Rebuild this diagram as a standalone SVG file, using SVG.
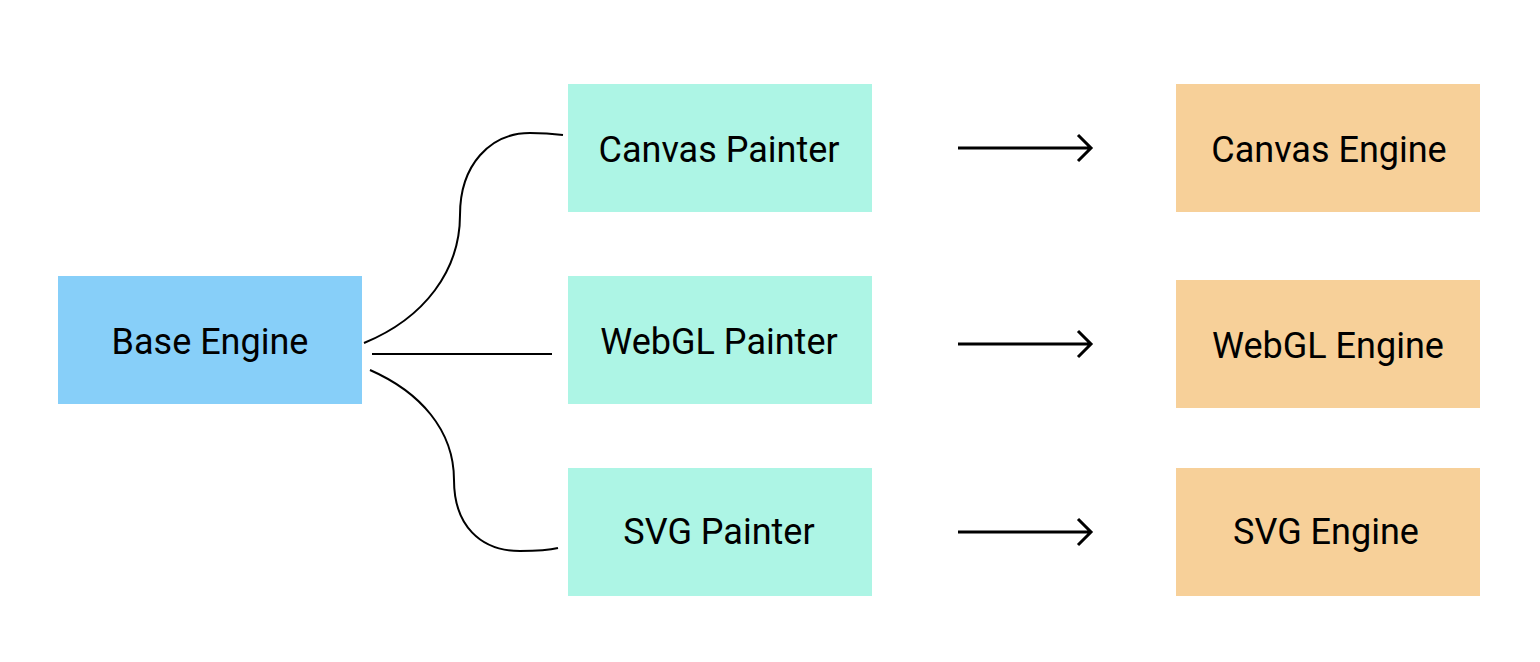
<svg xmlns="http://www.w3.org/2000/svg" width="1540" height="662" viewBox="0 0 1540 662">
<style>
.lbl{font-family:Roboto,"Liberation Sans",sans-serif;font-size:36px;fill:#000;text-anchor:middle;dominant-baseline:central}
.base{fill:#87CFF9}
.painter{fill:#ADF5E5}
.engine{fill:#F7D099}
.conn{fill:none;stroke:#000;stroke-width:2}
.arr{fill:none;stroke:#000;stroke-width:3}
</style>
<rect width="1540" height="662" fill="#fff"/>
<g id="connectors">
<path class="conn" d="M364,343 C425,318 460,270 460,215 C460,165 490,133 530,133 C545,133 555,134 563,135"/>
<path class="conn" d="M372,354 L552,354"/>
<path class="conn" d="M370,370 C420,392 454,430 454,480 C454,525 480,551 520,551 C540,551 550,550 558,548"/>
<g class="arr">
<path d="M958,148 L1091,148 M1078,135 L1091,148 L1078,161"/>
<path d="M958,344 L1091,344 M1078,331 L1091,344 L1078,357"/>
<path d="M958,532 L1091,532 M1078,519 L1091,532 L1078,545"/>
</g>
</g>
<g id="base-engine"><rect class="base" x="58" y="276" width="304" height="128"/><text class="lbl" x="210" y="342">Base Engine</text></g>
<g id="canvas-painter"><rect class="painter" x="568" y="84" width="304" height="128"/><text class="lbl" x="719" y="150">Canvas Painter</text></g>
<g id="webgl-painter"><rect class="painter" x="568" y="276" width="304" height="128"/><text class="lbl" x="719" y="342">WebGL Painter</text></g>
<g id="svg-painter"><rect class="painter" x="568" y="468" width="304" height="128"/><text class="lbl" x="719" y="532">SVG Painter</text></g>
<g id="canvas-engine"><rect class="engine" x="1176" y="84" width="304" height="128"/><text class="lbl" x="1329" y="150">Canvas Engine</text></g>
<g id="webgl-engine"><rect class="engine" x="1176" y="280" width="304" height="128"/><text class="lbl" x="1328" y="346">WebGL Engine</text></g>
<g id="svg-engine"><rect class="engine" x="1176" y="468" width="304" height="128"/><text class="lbl" x="1326" y="532">SVG Engine</text></g>
</svg>
